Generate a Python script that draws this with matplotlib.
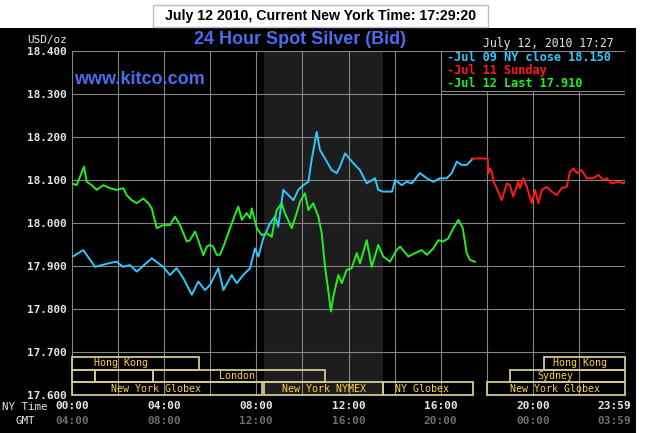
import matplotlib
matplotlib.use("Agg")
import matplotlib.pyplot as plt
from matplotlib.patches import Rectangle
import matplotlib.transforms as mtransforms

# ---------------- data ----------------
cyan_h = [0.00, 0.49, 1.00, 1.65, 1.94, 2.21, 2.52, 2.81, 3.46, 3.96, 4.25, 4.54, 4.83, 5.20,
          5.48, 5.77, 5.99, 6.35, 6.57, 6.93, 7.15, 7.43, 7.73, 7.94, 8.09, 8.30, 8.59, 8.81,
          8.95, 9.17, 9.39, 9.61, 9.82, 10.04, 10.26, 10.40, 10.62, 10.76, 10.98, 11.27, 11.49,
          11.63, 11.85, 12.21, 12.50, 12.79, 13.15, 13.29, 13.50, 13.89, 14.02, 14.31, 14.53,
          14.74, 15.10, 15.40, 15.68, 15.97, 16.26, 16.48, 16.70, 16.91, 17.13, 17.35]
cyan_v = [17.921, 17.937, 17.898, 17.907, 17.910, 17.898, 17.902, 17.887, 17.918, 17.898,
          17.879, 17.895, 17.872, 17.833, 17.864, 17.844, 17.856, 17.895, 17.844, 17.879,
          17.860, 17.879, 17.895, 17.941, 17.922, 17.964, 17.999, 18.015, 17.991, 18.077,
          18.065, 18.053, 18.077, 18.088, 18.096, 18.147, 18.212, 18.170, 18.150, 18.123,
          18.116, 18.131, 18.162, 18.139, 18.123, 18.092, 18.104, 18.077, 18.073, 18.073,
          18.100, 18.088, 18.096, 18.092, 18.116, 18.104, 18.096, 18.104, 18.104, 18.116,
          18.143, 18.135, 18.135, 18.147]

red_h = [17.35, 18.04, 18.07, 18.14, 18.24, 18.29, 18.43, 18.65, 18.87, 19.01, 19.15, 19.37,
         19.44, 19.59, 19.74, 19.95, 20.10, 20.24, 20.39, 20.60, 20.82, 21.04, 21.25, 21.47,
         21.61, 21.76, 21.91, 22.12, 22.34, 22.63, 22.84, 23.06, 23.21, 23.42, 23.71, 23.93, 23.98]
red_v = [18.150, 18.150, 18.116, 18.127, 18.116, 18.096, 18.081, 18.053, 18.092, 18.088,
         18.061, 18.096, 18.081, 18.104, 18.084, 18.046, 18.077, 18.046, 18.077, 18.084,
         18.073, 18.065, 18.081, 18.084, 18.119, 18.127, 18.116, 18.123, 18.104, 18.104,
         18.112, 18.100, 18.104, 18.092, 18.096, 18.092, 18.094]

green_h = [0.00, 0.20, 0.38, 0.52, 0.64, 0.86, 1.07, 1.36, 1.65, 1.94, 2.23, 2.37, 2.59, 2.81,
           3.09, 3.31, 3.46, 3.68, 3.96, 4.25, 4.47, 4.69, 4.98, 5.12, 5.34, 5.48, 5.70, 5.85,
           5.99, 6.13, 6.28, 6.42, 6.57, 6.86, 7.07, 7.22, 7.37, 7.58, 7.73, 7.80, 8.02, 8.23,
           8.45, 8.67, 8.88, 9.10, 9.24, 9.54, 9.75, 9.90, 10.11, 10.26, 10.47, 10.69, 10.84,
           10.98, 11.12, 11.24, 11.34, 11.56, 11.71, 11.92, 12.14, 12.36, 12.50, 12.79, 13.01,
           13.29, 13.51, 13.80, 14.09, 14.24, 14.60, 14.89, 15.18, 15.40, 15.68, 15.90, 16.11,
           16.33, 16.55, 16.77, 16.96, 17.13, 17.27, 17.49]
green_v = [18.092, 18.088, 18.112, 18.131, 18.096, 18.088, 18.077, 18.088, 18.081, 18.077,
           18.081, 18.065, 18.053, 18.046, 18.057, 18.046, 18.034, 17.988, 17.995, 17.995,
           18.015, 17.995, 17.957, 17.960, 17.980, 17.960, 17.925, 17.945, 17.949, 17.945,
           17.926, 17.926, 17.945, 17.988, 18.019, 18.038, 18.007, 18.023, 18.011, 18.034,
           17.988, 17.972, 17.976, 17.968, 18.030, 18.046, 18.023, 17.988, 18.023, 18.050,
           18.069, 18.030, 18.046, 18.015, 17.976, 17.898, 17.844, 17.794, 17.829, 17.879,
           17.860, 17.891, 17.895, 17.930, 17.906, 17.960, 17.898, 17.949, 17.922, 17.910,
           17.937, 17.945, 17.922, 17.930, 17.937, 17.926, 17.941, 17.960, 17.957, 17.964,
           17.988, 18.007, 17.988, 17.930, 17.914, 17.910]

y_ticks = [17.6, 17.7, 17.8, 17.9, 18.0, 18.1, 18.2, 18.3, 18.4]
ny_hours = [0, 4, 8, 12, 16, 20]
ny_labels = ["00:00", "04:00", "08:00", "12:00", "16:00", "20:00"]
gmt_labels = ["04:00", "08:00", "12:00", "16:00", "20:00", "00:00"]
end_ny, end_gmt = "23:59", "03:59"

nymex_span = (8.33, 13.5)

# market sessions: (row, start, end, label, label_center_hour)
sessions = [
    (2, 0.0, 5.5, "Hong Kong", 2.13),
    (1, 0.0, 1.0, "", None),
    (1, 1.0, 3.5, "", None),
    (1, 3.5, 11.0, "London", 7.18),
    (0, 0.0, 8.25, "New York Globex", 3.65),
    (0, 8.33, 13.5, "New York NYMEX", 10.92),
    (0, 13.5, 17.4, "NY Globex", 15.2),
    (0, 18.0, 24.0, "New York Globex", 20.96),
    (1, 19.0, 24.0, "Sydney", 20.96),
    (2, 20.5, 24.0, "Hong Kong", 22.05),
]

legend_lines = [("-Jul 09 NY close 18.150", "#2ec8ff"),
                ("-Jul 11 Sunday", "#ff1a1a"),
                ("-Jul 12 Last 17.910", "#22ee22")]

# ---------------- figure ----------------
W, H = 647, 433
fig = plt.figure(figsize=(W / 100, H / 100), dpi=100, facecolor="black")

def fx(px):
    return px / W

def fy(py):
    return 1 - py / H

# white margins
fig.patches.append(Rectangle((0, fy(28)), 1, 1 - fy(28), transform=fig.transFigure,
                             facecolor="white", edgecolor="none", zorder=0))
fig.patches.append(Rectangle((fx(636), 0), 1 - fx(636), 1, transform=fig.transFigure,
                             facecolor="white", edgecolor="none", zorder=0))
# top box
fig.patches.append(Rectangle((fx(153), fy(27)), fx(488) - fx(153), fy(5) - fy(27),
                             transform=fig.transFigure, facecolor="white",
                             edgecolor="#bdbdbd", lw=1.0, zorder=1))
fig.text(fx(320.5), fy(16), "July 12 2010, Current New York Time: 17:29:20",
         ha="center", va="center", fontsize=10.2, fontweight="bold",
         family="Liberation Sans", color="black")

ax = fig.add_axes([fx(72), fy(395), fx(625) - fx(72), fy(51) - fy(395)])
ax.set_facecolor("black")
ax.set_xlim(0, 24)
ax.set_ylim(17.6, 18.4)
for s in ax.spines.values():
    s.set_visible(False)

ax.axvspan(nymex_span[0], nymex_span[1], color="#1d1d1d", zorder=0.1, lw=0)

ax.set_xticks(range(0, 25, 2))
ax.set_xticklabels([])
ax.set_yticks(y_ticks)
ax.set_yticklabels([f"{v:.3f}" for v in y_ticks], family="DejaVu Sans Mono",
                   fontweight="bold", fontsize=7.9, color="#e6e6e6")
ax.tick_params(length=0, pad=4)
ax.set_axisbelow(True)
ax.grid(True, color="#858585", lw=0.8)

ax.plot(cyan_h, cyan_v, color="#2ec8ff", lw=1.4, zorder=3)
ax.plot(red_h, red_v, color="#ff1a1a", lw=1.4, zorder=3)
ax.plot(green_h, green_v, color="#22ee22", lw=1.4, zorder=3)

# market session boxes
trans = mtransforms.blended_transform_factory(ax.transData, ax.transAxes)
row_h = 0.037
for row, s0, s1, lab, lc in sessions:
    ax.add_patch(Rectangle((s0, row * row_h), s1 - s0, row_h, transform=trans,
                           facecolor="none", edgecolor="#cfc995", lw=1.3, zorder=4,
                           clip_on=False))
    if lab:
        ax.text(lc, row * row_h + row_h / 2, lab, transform=trans, ha="center",
                va="center", fontsize=7.2, family="DejaVu Sans Mono",
                color="#ffd23a", zorder=5)

# legend box
ax.add_patch(Rectangle((16.0, 0.8837), 8.0, 0.1163, transform=trans, facecolor="black",
                       edgecolor="#858585", lw=0.8, zorder=2))
for i, (txt, col) in enumerate(legend_lines):
    fig.text(fx(447), fy(57.5 + 13 * i), txt, ha="left", va="center",
             family="DejaVu Sans Mono", fontweight="bold", fontsize=8.6, color=col)

# x labels
for h, l1, l2 in zip(ny_hours, ny_labels, gmt_labels):
    ax.text(h, -0.032, l1, transform=trans, ha="center", va="center",
            family="DejaVu Sans Mono", fontweight="bold", fontsize=8.0, color="#e6e6e6")
    ax.text(h, -0.0756, l2, transform=trans, ha="center", va="center",
            family="DejaVu Sans Mono", fontweight="bold", fontsize=8.0, color="#6e6e6e")
ax.text(23.52, -0.032, end_ny, transform=trans, ha="center", va="center",
        family="DejaVu Sans Mono", fontweight="bold", fontsize=8.0, color="#e6e6e6")
ax.text(23.52, -0.0756, end_gmt, transform=trans, ha="center", va="center",
        family="DejaVu Sans Mono", fontweight="bold", fontsize=8.0, color="#6e6e6e")

fig.text(fx(1.5), fy(407), "NY Time", ha="left", va="center",
         family="DejaVu Sans Mono", fontsize=7.8, color="#e6e6e6")
fig.text(fx(25), fy(421), "GMT", ha="center", va="center",
         family="DejaVu Sans Mono", fontsize=7.8, color="#e6e6e6")
fig.text(fx(47), fy(39.5), "USD/oz", ha="center", va="center",
         family="DejaVu Sans Mono", fontsize=7.9, color="#e6e6e6")

# titles
fig.text(fx(300), fy(39.5), "24 Hour Spot Silver (Bid)", ha="center", va="center",
         family="Liberation Sans", fontweight="bold", fontsize=13, color="#4a6cf0")
fig.text(fx(74), fy(79), "www.kitco.com", ha="left", va="center",
         family="Liberation Sans", fontweight="bold", fontsize=13, color="#4a6cf0")
fig.text(fx(614), fy(44), "July 12, 2010 17:27", ha="right", va="center",
         family="DejaVu Sans Mono", fontsize=8.3, color="#e6e6e6")

fig.savefig("out.png", dpi=100, facecolor="black")
